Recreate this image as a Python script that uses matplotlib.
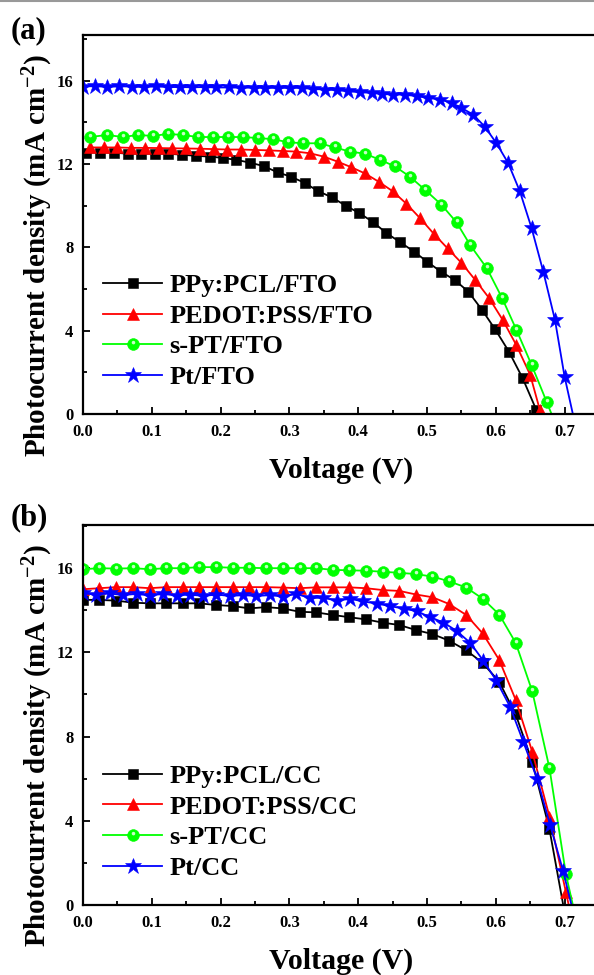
import matplotlib
matplotlib.use("Agg")
import matplotlib.pyplot as plt
from matplotlib.lines import Line2D
from matplotlib.markers import MarkerStyle
from matplotlib.ticker import MultipleLocator
from matplotlib.transforms import Affine2D

# ---- (a) FTO substrates: voltage (V) / photocurrent density (mA cm-2) ----
v_ppy_fto = [0.005, 0.025, 0.045, 0.065, 0.085, 0.104, 0.124, 0.144, 0.164, 0.184,
             0.203, 0.223, 0.243, 0.263, 0.283, 0.302, 0.322, 0.342, 0.362, 0.382,
             0.401, 0.421, 0.441, 0.461, 0.481, 0.500, 0.520, 0.540, 0.560, 0.580,
             0.599, 0.619, 0.639, 0.659]
j_ppy_fto = [12.55, 12.55, 12.55, 12.5, 12.5, 12.5, 12.5, 12.45, 12.4, 12.36,
             12.3, 12.2, 12.07, 11.9, 11.6, 11.4, 11.1, 10.7, 10.4, 10.0,
             9.66, 9.23, 8.69, 8.25, 7.8, 7.32, 6.84, 6.44, 5.88, 5.0,
             4.07, 3.0, 1.72, 0.19]

v_pedot_fto = [0.010, 0.030, 0.050, 0.070, 0.090, 0.110, 0.130, 0.150, 0.170, 0.190,
               0.210, 0.230, 0.250, 0.270, 0.290, 0.310, 0.330, 0.350, 0.370, 0.390,
               0.410, 0.430, 0.450, 0.470, 0.490, 0.510, 0.530, 0.550, 0.570, 0.590,
               0.610, 0.630, 0.650, 0.664]
j_pedot_fto = [12.8, 12.8, 12.8, 12.78, 12.78, 12.77, 12.76, 12.75, 12.74, 12.72,
               12.7, 12.7, 12.68, 12.66, 12.63, 12.6, 12.52, 12.36, 12.12, 11.85,
               11.55, 11.15, 10.7, 10.1, 9.4, 8.65, 7.95, 7.26, 6.44, 5.58,
               4.52, 3.3, 1.88, 0.2]

v_spt_fto = [0.010, 0.035, 0.058, 0.080, 0.102, 0.123, 0.145, 0.167, 0.189, 0.211,
             0.233, 0.254, 0.276, 0.298, 0.320, 0.344, 0.366, 0.388, 0.410, 0.432,
             0.453, 0.475, 0.497, 0.521, 0.543, 0.563, 0.587, 0.609, 0.630, 0.652,
             0.674, 0.681]
j_spt_fto = [13.3, 13.4, 13.3, 13.4, 13.35, 13.45, 13.4, 13.3, 13.3, 13.3,
             13.3, 13.25, 13.2, 13.05, 13.0, 13.0, 12.8, 12.6, 12.5, 12.2,
             11.9, 11.4, 10.77, 10.05, 9.2, 8.1, 7.0, 5.58, 4.04, 2.36,
             0.58, 0.0]

v_pt_fto = [0.000, 0.018, 0.035, 0.053, 0.071, 0.088, 0.106, 0.124, 0.141, 0.159,
            0.177, 0.194, 0.212, 0.230, 0.248, 0.265, 0.283, 0.301, 0.318, 0.334,
            0.352, 0.369, 0.385, 0.403, 0.420, 0.434, 0.451, 0.468, 0.485, 0.502,
            0.519, 0.536, 0.550, 0.567, 0.584, 0.601, 0.618, 0.635, 0.652, 0.669,
            0.686, 0.700, 0.712]
j_pt_fto = [15.72, 15.75, 15.7, 15.74, 15.72, 15.7, 15.73, 15.7, 15.7, 15.69,
            15.7, 15.68, 15.68, 15.67, 15.67, 15.66, 15.66, 15.66, 15.66, 15.61,
            15.58, 15.55, 15.5, 15.45, 15.42, 15.37, 15.34, 15.34, 15.26, 15.18,
            15.1, 14.94, 14.7, 14.38, 13.8, 13.0, 12.05, 10.69, 8.93, 6.84,
            4.52, 1.79, 0.0]

# ---- (b) carbon cloth substrates ----
v_ppy_cc = [0.000, 0.024, 0.048, 0.073, 0.097, 0.121, 0.145, 0.169, 0.194, 0.218,
            0.242, 0.266, 0.290, 0.315, 0.339, 0.363, 0.387, 0.411, 0.436, 0.460,
            0.484, 0.508, 0.532, 0.557, 0.581, 0.605, 0.629, 0.653, 0.678, 0.698]
j_ppy_cc = [14.5, 14.49, 14.46, 14.36, 14.33, 14.33, 14.33, 14.33, 14.25, 14.2,
            14.09, 14.15, 14.09, 13.93, 13.9, 13.78, 13.67, 13.57, 13.41, 13.3,
            13.06, 12.87, 12.56, 12.1, 11.5, 10.6, 9.05, 6.8, 3.6, 0.0]

v_pedot_cc = [0.000, 0.024, 0.048, 0.073, 0.097, 0.121, 0.145, 0.169, 0.194, 0.218,
              0.242, 0.266, 0.290, 0.315, 0.339, 0.363, 0.387, 0.411, 0.436, 0.460,
              0.484, 0.508, 0.532, 0.557, 0.581, 0.605, 0.629, 0.653, 0.678, 0.702,
              0.706]
j_pedot_cc = [15.0, 15.05, 15.1, 15.1, 15.05, 15.1, 15.1, 15.1, 15.1, 15.1,
              15.1, 15.1, 15.08, 15.05, 15.09, 15.09, 15.09, 15.05, 14.96, 14.92,
              14.75, 14.62, 14.3, 13.78, 12.9, 11.64, 9.74, 7.28, 4.2, 0.6,
              0.0]

v_spt_cc = [0.000, 0.024, 0.048, 0.073, 0.097, 0.121, 0.145, 0.169, 0.194, 0.218,
            0.242, 0.266, 0.290, 0.315, 0.339, 0.363, 0.387, 0.411, 0.436, 0.460,
            0.484, 0.508, 0.532, 0.557, 0.581, 0.605, 0.629, 0.653, 0.678, 0.702,
            0.712]
j_spt_cc = [15.95, 16.0, 15.98, 16.0, 15.95, 16.0, 16.0, 16.05, 16.05, 16.02,
            16.02, 16.0, 16.0, 16.0, 16.0, 15.92, 15.9, 15.88, 15.83, 15.78,
            15.72, 15.6, 15.38, 15.08, 14.55, 13.8, 12.45, 10.15, 6.5, 1.45,
            0.0]

v_pt_cc = [0.000, 0.019, 0.039, 0.058, 0.078, 0.097, 0.116, 0.136, 0.155, 0.175,
           0.194, 0.213, 0.233, 0.252, 0.272, 0.291, 0.310, 0.330, 0.349, 0.369,
           0.388, 0.407, 0.427, 0.446, 0.466, 0.485, 0.504, 0.524, 0.543, 0.563,
           0.582, 0.601, 0.621, 0.640, 0.660, 0.679, 0.698, 0.710]
j_pt_cc = [14.8, 14.75, 14.8, 14.72, 14.78, 14.7, 14.78, 14.7, 14.75, 14.68,
           14.75, 14.68, 14.72, 14.68, 14.72, 14.65, 14.78, 14.58, 14.6, 14.45,
           14.55, 14.42, 14.32, 14.2, 14.08, 13.96, 13.68, 13.42, 13.02, 12.45,
           11.6, 10.65, 9.4, 7.75, 6.0, 3.8, 1.6, 0.0]

labels_fto = ["PPy:PCL/FTO", "PEDOT:PSS/FTO", "s-PT/FTO", "Pt/FTO"]
labels_cc = ["PPy:PCL/CC", "PEDOT:PSS/CC", "s-PT/CC", "Pt/CC"]

plt.rcParams.update({
    "font.family": ["Liberation Serif", "DejaVu Serif"],
    "font.weight": "bold",
    "mathtext.fontset": "custom",
    "mathtext.rm": "Liberation Serif:bold",
    "mathtext.it": "Liberation Serif:bold",
    "mathtext.bf": "Liberation Serif:bold",
})

# marker style for black, red, green, blue curves
styles = [("#000000", "s", 7.2), ("#ff0000", "^", 9.0),
          ("#00ff00", "o", 8.5), ("#0000ff", "*", 12)]
highlight = MarkerStyle("o", transform=Affine2D().scale(0.3).translate(0.0, 0.16))


def draw_panel(ax, curves, labels, ytop):
    handles = []
    for (v, j), (color, marker, ms), label in zip(curves, styles, labels):
        # last point sits on the axis (Voc) and carries no symbol
        n = len(v) - 1 if j[-1] == 0 else len(v)
        line, = ax.plot(v, j, color=color, lw=1.3, marker=marker, ms=ms,
                        mfc=color, mec=color, mew=0.4, markevery=slice(0, n))
        if marker == "o":
            shine, = ax.plot(v[:n], j[:n], ls="none", marker=highlight, ms=ms,
                             mfc="#c4ffc4", mew=0)
            handles.append((line, shine))
        else:
            handles.append(line)

    ax.set_xlim(0, 0.75)
    ax.set_ylim(0, ytop)
    ax.xaxis.set_major_locator(MultipleLocator(0.1))
    ax.xaxis.set_minor_locator(MultipleLocator(0.05))
    ax.yaxis.set_major_locator(MultipleLocator(4))
    ax.yaxis.set_minor_locator(MultipleLocator(2))
    ax.xaxis.set_major_formatter(lambda x, pos: f"{x:.1f}")
    ax.tick_params(which="both", direction="in", width=1.3, labelsize=12, pad=7)
    ax.tick_params(which="major", length=5)
    ax.tick_params(which="minor", length=3)
    for side in ["left", "bottom", "top"]:
        ax.spines[side].set_linewidth(1.6)
    ax.spines["right"].set_visible(False)

    ax.legend(handles, labels, loc="center left", bbox_to_anchor=(0.039, 0.218),
              frameon=False, fontsize=19, handlelength=2.25, handletextpad=0.25,
              labelspacing=0.27, borderpad=0, borderaxespad=0)


fig = plt.figure(figsize=(5.94, 9.75), dpi=100)

ax_a = fig.add_axes([0.1397, 0.5754, 0.8687, 0.3887])
draw_panel(ax_a, [(v_ppy_fto, j_ppy_fto), (v_pedot_fto, j_pedot_fto),
                  (v_spt_fto, j_spt_fto), (v_pt_fto, j_pt_fto)], labels_fto, 18.2)

ax_b = fig.add_axes([0.1397, 0.0718, 0.8687, 0.3897])
draw_panel(ax_b, [(v_ppy_cc, j_ppy_cc), (v_pedot_cc, j_pedot_cc),
                  (v_spt_cc, j_spt_cc), (v_pt_cc, j_pt_cc)], labels_cc, 18.05)

ylab = "Photocurrent density (mA cm$^{-2}$)"
for y_ax, y_lab, y_tag, tag in [(470, 256, 31, "(a)"), (961, 746, 518, "(b)")]:
    fig.text(341 / 594, 1 - y_ax / 975, "Voltage (V)", ha="center", va="center",
             fontsize=21.5, fontweight="bold")
    fig.text(38 / 594, 1 - y_lab / 975, ylab, rotation=90, ha="center", va="center",
             fontsize=21, fontweight="bold")
    fig.text(29 / 594, 1 - y_tag / 975, tag, ha="center", va="center",
             fontsize=22, fontweight="bold")

fig.add_artist(Line2D([0, 1], [0.999, 0.999], color="#999999", lw=1.5,
                      transform=fig.transFigure))

fig.savefig("out.png", dpi=100)
